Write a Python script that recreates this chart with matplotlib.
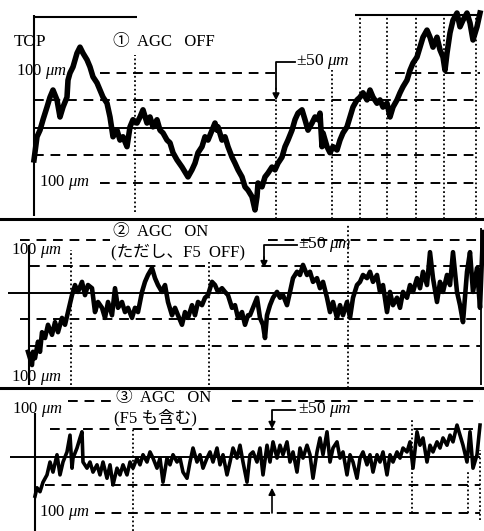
import matplotlib
matplotlib.use("Agg")
import matplotlib.pyplot as plt

plt.rcParams['font.family'] = ['Liberation Serif', 'Noto Sans CJK JP']
plt.rcParams['mathtext.fontset'] = 'custom'
plt.rcParams['mathtext.rm'] = 'Liberation Serif'
plt.rcParams['mathtext.it'] = 'Liberation Serif:italic'

# ---- traces (t = sample position, v = offset in um) ----
t1 = [34, 37, 40, 43, 47, 50, 53, 57, 60, 63, 67, 68, 70, 73, 77, 80, 83, 87, 90, 93,
      97, 100, 103, 107, 110, 112, 113, 117, 120, 123, 127, 130, 133, 137, 140, 143, 147, 150, 153, 157,
      160, 163, 167, 170, 173, 177,
      182, 188, 192, 195, 198, 202, 205, 208, 212, 215, 217, 218, 222, 225, 228, 232, 235, 238, 242, 245,
      248, 252, 255, 257, 258, 262, 265, 268, 272, 275, 278, 282, 285, 288, 292, 295, 298, 302, 305, 308,
      312, 315, 318,
      320, 322, 323, 327, 330, 333, 337, 340, 343, 347, 350, 353, 357, 360, 363, 367, 370, 373, 377, 380,
      383, 387, 390, 393, 397, 400, 403, 407, 410, 413, 417, 420, 423, 427, 430, 433, 437, 440, 443, 445,
      447, 450, 453, 457, 460, 463, 467, 470, 473, 477, 480]
v1 = [-58, -16, -4, 15, 38, 56, 69, 51, 20, 38, 56, 87, 100, 111, 136, 147, 136, 124, 111, 93,
      82, 69, 56, 45, 20, -4, -16, -4, -22, -16, -34, 2, 15, 9, 20, 33, 9, 20, 2, 15,
      -4, -9, -22, -27, -45, -58,
      -71, -89, -76, -64, -45, -34, -16, -22, -4, 9, -4, 2, -22, -16, -34, -53, -64, -76, -89, -107,
      -113, -125, -149, -125, -100, -107, -89, -82, -71, -76, -64, -53, -34, -22, -4, 15, 27, 33, 15, -4,
      9, 20, 15,
      27, -34, -9, -34, -45, -34, -40, -22, -9, 2, 20, 38, 51, 56, 64, 51, 69, 56, 45, 51,
      38, 45, 20, 38, 51, 64, 75, 87, 105, 118, 129, 147, 165, 178, 165, 147, 165, 142, 129, 105,
      136, 173, 196, 209, 184, 196, 209, 191, 160, 184, 209]

t2 = [28, 32, 33, 35, 38, 40, 42, 45, 48, 52, 55, 58, 62, 65, 68, 72, 75, 78, 82, 85,
      88, 92, 95, 98, 102, 105, 108, 112, 115, 118, 122, 125, 128, 132, 135, 138, 142, 145, 148, 152,
      155, 158, 162, 165, 168, 172, 175, 178, 182, 185, 188, 192, 195, 198, 202, 205, 208, 212, 215, 218,
      222, 225, 228, 232, 235, 238, 242, 245, 248, 250, 253, 257, 260, 263, 265, 267, 270, 273, 277, 280,
      283, 287, 290, 293, 297, 300, 303, 307, 310, 313, 317, 320, 323, 327, 330, 333, 337, 340, 343, 347,
      350, 353, 357, 360, 363, 367, 370, 373, 377, 380, 383, 387, 390, 393, 397, 400, 403, 407, 410, 413,
      417, 420, 423, 427, 430, 433, 437, 440, 443, 447, 450, 453, 457, 460, 463, 467, 470, 473, 477, 480,
      483]
v2 = [-111, -136, -111, -123, -92, -111, -74, -85, -60, -79, -55, -74, -47, -60, -36, -4, 15, 2, 21, -4,
      15, 9, -36, -17, -28, -47, -17, -42, 9, -28, -17, -36, -28, -47, -28, -36, 2, 21, 34, 47,
      28, 15, 2, 15, -17, -42, -28, -42, -60, -36, -47, -23, -42, -17, -23, -9, -4, 21, 15, 2,
      9, 2, -4, -28, -23, -47, -36, -60, -42, -42, -28, -9, -47, -60, -85, -42, -23, -9, 2, -9,
      -4, -23, 2, 28, 40, 34, 53, 34, 40, 21, 28, 9, 21, -9, -36, -17, -47, -23, -42, -17,
      -47, -9, 15, 21, 34, 28, 40, 21, 34, 2, 15, -36, 2, -23, -9, -28, 2, -9, 15, 2,
      28, 9, 40, 15, 77, 28, -17, 21, 2, 34, 15, 77, 2, -23, -55, 40, 77, 2, 47, -28,
      115]

t3 = [35, 37, 40, 43, 47, 50, 53, 57, 60, 63, 67, 70, 72, 73, 77, 80, 82, 83, 87, 90,
      93, 97, 100, 103, 107, 110, 113, 117, 120, 123, 127, 130, 133, 137, 140, 143, 147, 150, 153, 157,
      160, 163, 167, 170, 173, 177, 180, 183, 187, 190, 193, 197, 200, 203, 207, 210, 213, 217, 220, 223,
      227, 230, 233, 237, 240, 243, 247, 250, 253, 257, 260, 263, 267, 270, 273, 277, 280, 283, 287, 290,
      293, 297, 300, 303, 307, 310, 313, 317, 320, 323, 327, 330, 333, 337, 340, 343, 347, 350, 353, 357,
      360, 363, 367, 370, 373, 377, 380, 383, 387, 390, 393, 397, 400, 403, 407, 410, 413, 417, 420, 423,
      427, 430, 433, 437, 440, 443, 447, 450, 453, 457, 460, 463, 467, 470, 473, 477, 480]
v3 = [-70, -55, -62, -45, -32, -9, -27, 4, -32, -9, 9, 39, -20, -2, 16, 34, 45, -9, -20, -9,
      -27, -14, -32, -9, -38, -14, -50, -20, -32, -14, -32, -9, -20, -2, -14, 4, -9, 9, -2, -20,
      -2, -45, -2, -14, 4, -9, -2, -27, -38, -9, 16, -9, 4, -20, -2, 9, -9, 16, -14, 4,
      -32, -9, 16, -2, 21, -9, -45, 4, 9, -9, 16, -32, 21, -9, 27, -2, 21, 4, 27, -9,
      9, -27, 16, -2, 21, 4, -38, 9, 34, 4, 45, -9, 16, 27, -2, 9, -32, 4, -9, -38,
      -2, 9, -14, 4, -27, 4, -9, 9, -32, 4, -9, 9, -2, 16, 9, 27, -20, 45, 21, 34,
      -9, 21, 9, 27, 16, 34, 21, 39, 27, 57, 39, 21, -9, 45, -20, 4, 57]

DASH = (0, (5, 3.5))
DOT = (0, (1, 1.4))
um = r'$\mu m$'

fig = plt.figure(figsize=(4.84, 5.31), dpi=100)
fig.patch.set_facecolor('white')


def setup(ax, lo, hi):
    ax.set_xlim(0, 484)
    ax.set_ylim(lo, hi)
    ax.axis('off')


def arrow(ax, x, y0, y1):
    ax.annotate('', xy=(x, y1), xytext=(x, y0),
                arrowprops=dict(arrowstyle='-|>', color='black', lw=1.2,
                                mutation_scale=10, shrinkA=0, shrinkB=0))


def hdash(ax, y, x0, x1):
    ax.hlines(y, x0, x1, colors='k', lw=1.4, linestyles=DASH)


def vdot(ax, x, y0, y1):
    ax.vlines(x, y0, y1, colors='k', lw=1.3, linestyles=DOT)


# ---------------- panel 1 : AGC OFF ----------------
ax1 = fig.add_axes([0, 1 - 219 / 531, 1, 219 / 531])
setup(ax1, -165.5, 232.7)
hdash(ax1, 100, 100, 275)
hdash(ax1, 100, 395, 480)
hdash(ax1, [50, -50], 34, 480)
hdash(ax1, -100, 100, 480)
ax1.hlines(0, 34, 480, colors='k', lw=1.4)
ax1.vlines(34, -160, 205, colors='k', lw=1.5)
ax1.hlines(202, 34, 137, colors='k', lw=1.5)
ax1.hlines(205, 355, 480, colors='k', lw=1.5)
vdot(ax1, 135, -153, 133)
vdot(ax1, 332, -165, 105)
vdot(ax1, [360, 387, 416, 444, 476], -165, 205)
vdot(ax1, 276, -165, 50)
ax1.plot([295, 276, 276], [120, 120, 70], color='k', lw=1.3)
arrow(ax1, 276, 72, 50)
ax1.axhline(-165.5, color='k', lw=2.2, clip_on=False)
ax1.plot(t1, v1, color='k', lw=4, solid_joinstyle='round')
ax1.text(14, 156, 'TOP', fontsize=12.5, va='center')
ax1.text(113, 156, '\u2460  AGC   OFF', fontsize=12, va='center')
ax1.text(16, 102, '100 ' + um, fontsize=12, va='center')
ax1.text(39, -100, '100 ' + um, fontsize=12, va='center')
ax1.text(296, 120, '\u00b150 ' + um, fontsize=12.5, va='center')

# ---------------- panel 2 : AGC ON (F5 OFF) ----------------
ax2 = fig.add_axes([0, 1 - 388 / 531, 1, 169 / 531])
setup(ax2, -179.3, 139.6)
hdash(ax2, 100, 20, 110)
hdash(ax2, 100, 268, 480)
hdash(ax2, 50, 30, 480)
hdash(ax2, -50, 20, 480)
hdash(ax2, -100, 30, 480)
ax2.hlines(0, 8, 480, colors='k', lw=1.4)
ax2.vlines(29, -173, 91, colors='k', lw=1.5)
ax2.vlines(481, -173, 123, colors='k', lw=1.3)
vdot(ax2, 71, -173, 81)
vdot(ax2, 209, -173, 58)
vdot(ax2, 348, -179, 128)
ax2.plot([297, 264, 264], [91, 91, 65], color='k', lw=1.3)
arrow(ax2, 264, 68, 47)
ax2.axhline(-179.3, color='k', lw=2.2, clip_on=False)
ax2.plot(t2, v2, color='k', lw=3.3, solid_joinstyle='round')
ax2.text(11, 81, '100 ' + um, fontsize=12, va='center')
ax2.text(11, -160, '100 ' + um, fontsize=12, va='center')
ax2.text(113, 115, '\u2461  AGC   ON', fontsize=12, va='center')
ax2.text(111, 77, '(ただし、F5  OFF)', fontsize=12, va='center')
ax2.text(298, 92, '\u00b150 ' + um, fontsize=12.5, va='center')

# ---------------- panel 3 : AGC ON (F5 included) ----------------
ax3 = fig.add_axes([0, 0, 1, 143 / 531])
setup(ax3, -132.2, 123.2)
hdash(ax3, 100, 68, 117)
hdash(ax3, 100, 232, 480)
hdash(ax3, 50, 50, 480)
hdash(ax3, -50, 45, 480)
hdash(ax3, -100, 95, 480)
ax3.hlines(0, 10, 480, colors='k', lw=1.4)
ax3.vlines(35, -132, 79, colors='k', lw=1.5)
vdot(ax3, 133, -132, 48)
vdot(ax3, 412, -100, 66)
vdot(ax3, 468, -100, -23)
vdot(ax3, 480, -112, 12)
ax3.plot([295, 272, 272], [84, 84, 62], color='k', lw=1.3)
arrow(ax3, 272, 66, 50)
arrow(ax3, 272, -100, -55)
ax3.plot(t3, v3, color='k', lw=2.6, solid_joinstyle='round')
ax3.text(12, 84, '100 ' + um, fontsize=12, va='center')
ax3.text(39, -100, '100 ' + um, fontsize=12, va='center')
ax3.text(116, 105, '\u2462  AGC   ON', fontsize=12, va='center')
ax3.text(114, 70, '(F5 も含む)', fontsize=12, va='center')
ax3.text(298, 84, '\u00b150 ' + um, fontsize=12.5, va='center')

fig.savefig('out.png', dpi=100, facecolor='white')
